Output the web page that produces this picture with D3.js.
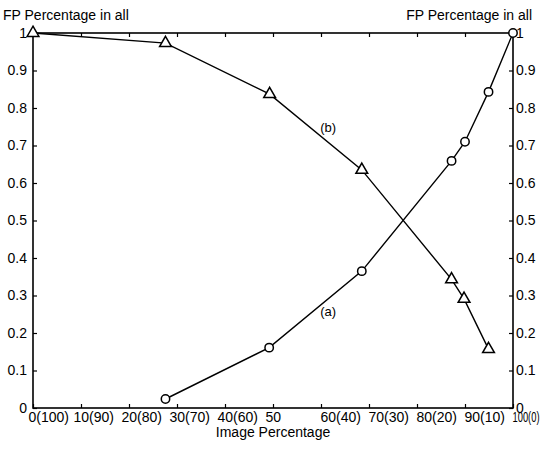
<!DOCTYPE html>
<html>
<head>
<meta charset="utf-8">
<script src="https://cdn.jsdelivr.net/npm/d3@7"></script>
<style>
  html, body { margin: 0; padding: 0; background: #fff; }
  svg { display: block; }
  text { font-family: "Liberation Sans", Arial, sans-serif; fill: #000; }
</style>
</head>
<body>
<svg id="chart" width="540" height="452"></svg>
<script>
// ---- data ----
const xTickValues = [0, 10, 20, 30, 40, 50, 60, 70, 80, 90, 100];
const xTickLabels = ["0(100)", "10(90)", "20(80)", "30(70)", "40(60)", "50", "60(40)", "70(30)", "80(20)", "90(10)", "100(0)"];
const yTickValues = [0, 0.1, 0.2, 0.3, 0.4, 0.5, 0.6, 0.7, 0.8, 0.9, 1];
const yTickLabels = ["0", "0.1", "0.2", "0.3", "0.4", "0.5", "0.6", "0.7", "0.8", "0.9", "1"];

const seriesAX = [27.6, 49.2, 68.5, 87.2, 90.0, 94.9, 100];
const seriesAY = [0.024, 0.161, 0.365, 0.659, 0.710, 0.843, 1.0];
const seriesBX = [0, 27.6, 49.3, 68.5, 87.2, 89.8, 94.9];
const seriesBY = [1.0, 0.973, 0.837, 0.635, 0.343, 0.291, 0.157];

const yTitle = "FP Percentage in all";
const xTitle = "Image Percentage";
const seriesNames = ["(a)", "(b)"];

// ---- layout ----
const W = 540, H = 452;
const m = { left: 33, right: 27, top: 33, bottom: 44 };
const svg = d3.select("#chart");
const x = d3.scaleLinear().domain([0, 100]).range([m.left, W - m.right]);
const y = d3.scaleLinear().domain([0, 1]).range([H - m.bottom, m.top]);

const fs = "14px";

// frame
svg.append("rect")
  .attr("x", x(0)).attr("y", y(1))
  .attr("width", x(100) - x(0)).attr("height", y(0) - y(1))
  .attr("fill", "none").attr("stroke", "#000").attr("stroke-width", 1.6);

// bottom axis
const gB = svg.append("g").attr("transform", `translate(0,${y(0)})`)
  .call(d3.axisBottom(x).tickValues(xTickValues)
    .tickFormat((d, i) => xTickLabels[i]).tickSize(-4).tickPadding(4));
gB.selectAll("text").attr("text-anchor", "start")
  .attr("dx", (d, i) => (i === 0 ? -5 : (i <= 5 ? -8 : -1)));
// last label is squeezed against the right edge in the original
gB.selectAll("text").filter((d, i, n) => i === n.length - 1)
  .attr("textLength", 27).attr("lengthAdjust", "spacingAndGlyphs");

// top axis (ticks only)
svg.append("g").attr("transform", `translate(0,${y(1)})`)
  .call(d3.axisTop(x).tickValues(xTickValues).tickFormat("").tickSize(-4));

// left axis
svg.append("g").attr("transform", `translate(${x(0)},0)`)
  .call(d3.axisLeft(y).tickValues(yTickValues)
    .tickFormat((d, i) => yTickLabels[i]).tickSize(-4).tickPadding(6));

// right axis
svg.append("g").attr("transform", `translate(${x(100)},0)`)
  .call(d3.axisRight(y).tickValues(yTickValues)
    .tickFormat((d, i) => yTickLabels[i]).tickSize(-4).tickPadding(3));

svg.selectAll(".domain").remove();
svg.selectAll(".tick line").attr("stroke", "#000").attr("stroke-width", 1.2);
svg.selectAll(".tick text").style("font-size", fs)
  .style("font-family", '"Liberation Sans", Arial, sans-serif').attr("fill", "#000");

// titles
svg.append("text").attr("x", 3).attr("y", 20).style("font-size", fs).text(yTitle);
svg.append("text").attr("x", 532).attr("y", 20).attr("text-anchor", "end").style("font-size", fs).text(yTitle);
svg.append("text").attr("x", (x(0) + x(100)) / 2).attr("y", 437)
  .attr("text-anchor", "middle").style("font-size", fs).text(xTitle);

// series
const dataA = seriesAX.map((v, i) => [v, seriesAY[i]]);
const dataB = seriesBX.map((v, i) => [v, seriesBY[i]]);
const line = d3.line().x(d => x(d[0])).y(d => y(d[1]));

svg.append("path").datum(dataA).attr("d", line)
  .attr("fill", "none").attr("stroke", "#000").attr("stroke-width", 1.4);
svg.append("path").datum(dataB).attr("d", line)
  .attr("fill", "none").attr("stroke", "#000").attr("stroke-width", 1.4);

svg.selectAll(".mA").data(dataA).enter().append("circle")
  .attr("cx", d => x(d[0])).attr("cy", d => y(d[1])).attr("r", 4.2)
  .attr("fill", "#fff").attr("stroke", "#000").attr("stroke-width", 1.5);

const tri = d3.symbol().type(d3.symbolTriangle).size(60);
svg.selectAll(".mB").data(dataB).enter().append("path")
  .attr("d", tri)
  .attr("transform", d => `translate(${x(d[0])},${y(d[1])})`)
  .attr("fill", "#fff").attr("stroke", "#000").attr("stroke-width", 1.5);

// series labels
svg.append("text").attr("x", x(61.5)).attr("y", y(0.245)).attr("text-anchor", "middle")
  .style("font-size", "13px").text(seriesNames[0]);
svg.append("text").attr("x", x(61.5)).attr("y", y(0.735)).attr("text-anchor", "middle")
  .style("font-size", "13px").text(seriesNames[1]);
</script>
</body>
</html>
